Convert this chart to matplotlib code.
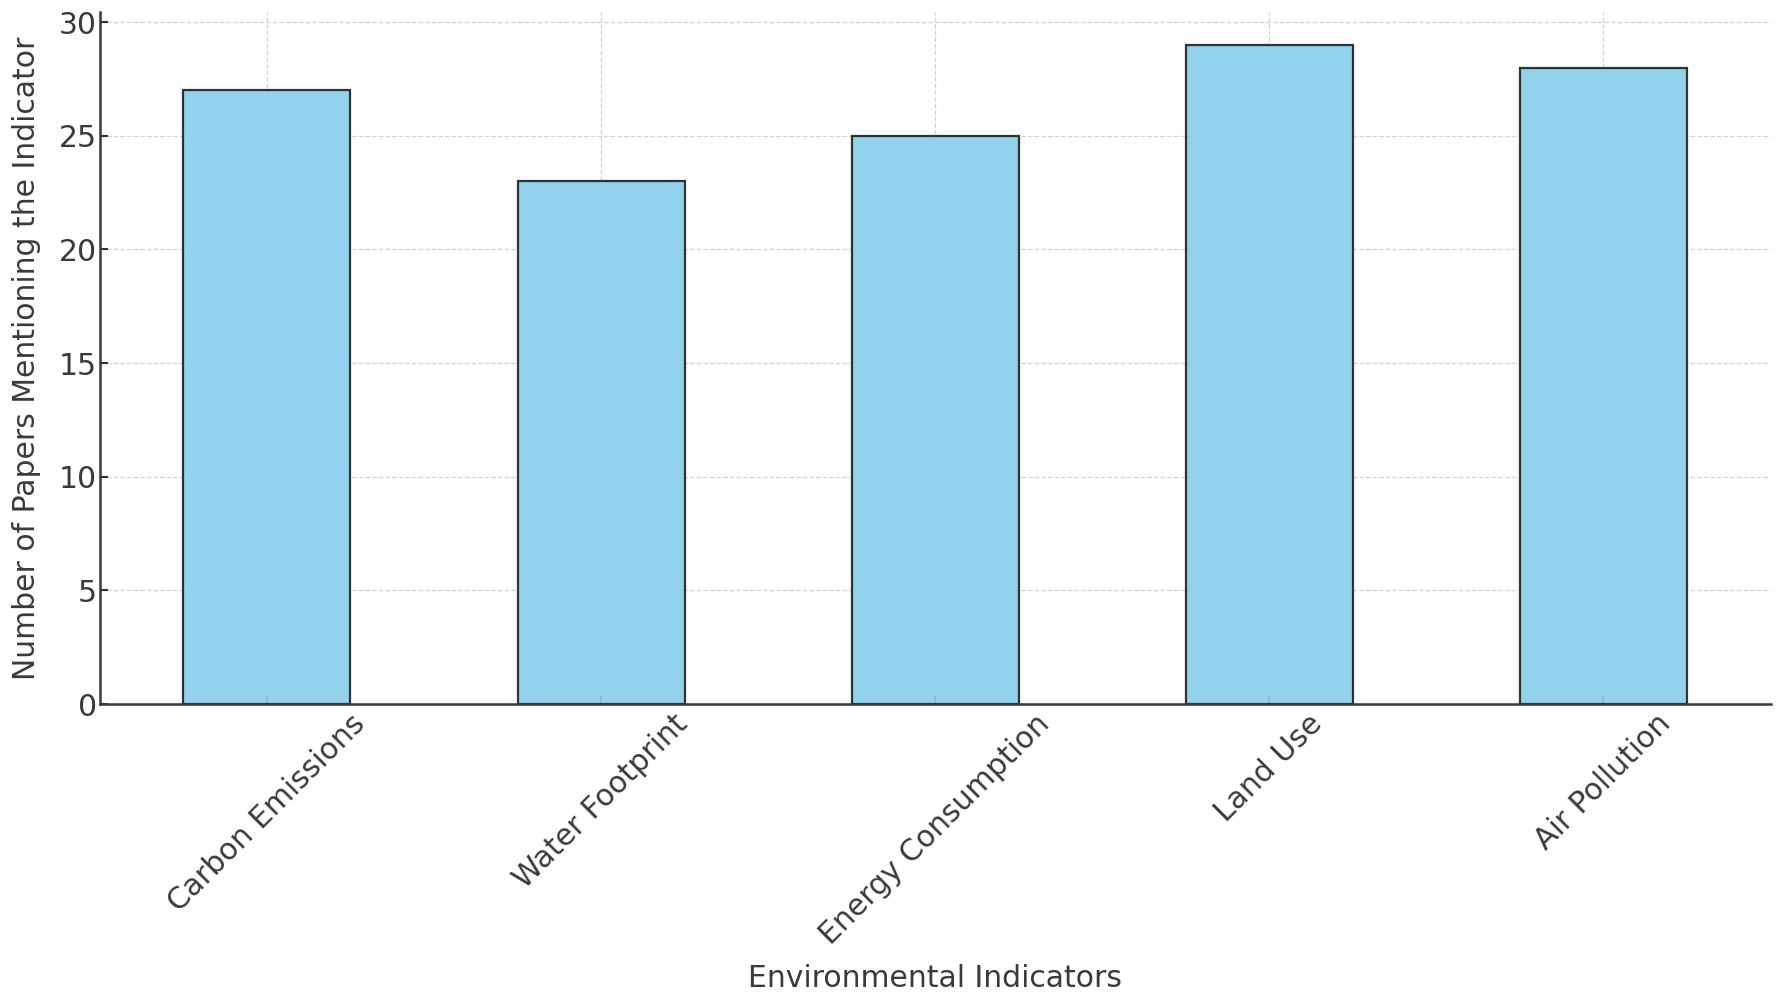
import matplotlib.pyplot as plt
import numpy as np

indicators = ['Carbon Emissions', 'Water Footprint', 'Energy Consumption', 'Land Use', 'Air Pollution']
paper_counts = [27, 23, 25, 29, 28]

text_color = '#3a3a3a'

fig, ax = plt.subplots(figsize=(17.83, 10), dpi=100)
fig.subplots_adjust(left=0.056, right=0.993, bottom=0.296, top=0.988)

x = np.arange(len(indicators))
ax.bar(x, paper_counts, width=0.5, color='skyblue', alpha=0.9,
       edgecolor='#1f1f1f', linewidth=1.6, zorder=2)

ax.set_xlim(-0.5, len(indicators) - 0.5)
ax.set_xticks(x)
ax.set_xticklabels(indicators, rotation=45, ha='center', fontsize=21.5, color=text_color)
ax.tick_params(axis='y', labelsize=21.5, labelcolor=text_color, pad=2)
ax.tick_params(direction='in', length=6, width=1.5, color='#333333')

ax.set_xlabel('Environmental Indicators', fontsize=21.5, color=text_color, labelpad=10)
ax.set_ylabel('Number of Papers Mentioning the Indicator', fontsize=21.5, color=text_color, labelpad=13)

ax.grid(True, linestyle='--', linewidth=0.9, color='#c8c8c8', alpha=0.8, zorder=3)

for side in ['top', 'right']:
    ax.spines[side].set_visible(False)
for side in ['left', 'bottom']:
    ax.spines[side].set_color('#3a3a3a')
    ax.spines[side].set_linewidth(1.8)

fig.savefig('out.png', dpi=100)
